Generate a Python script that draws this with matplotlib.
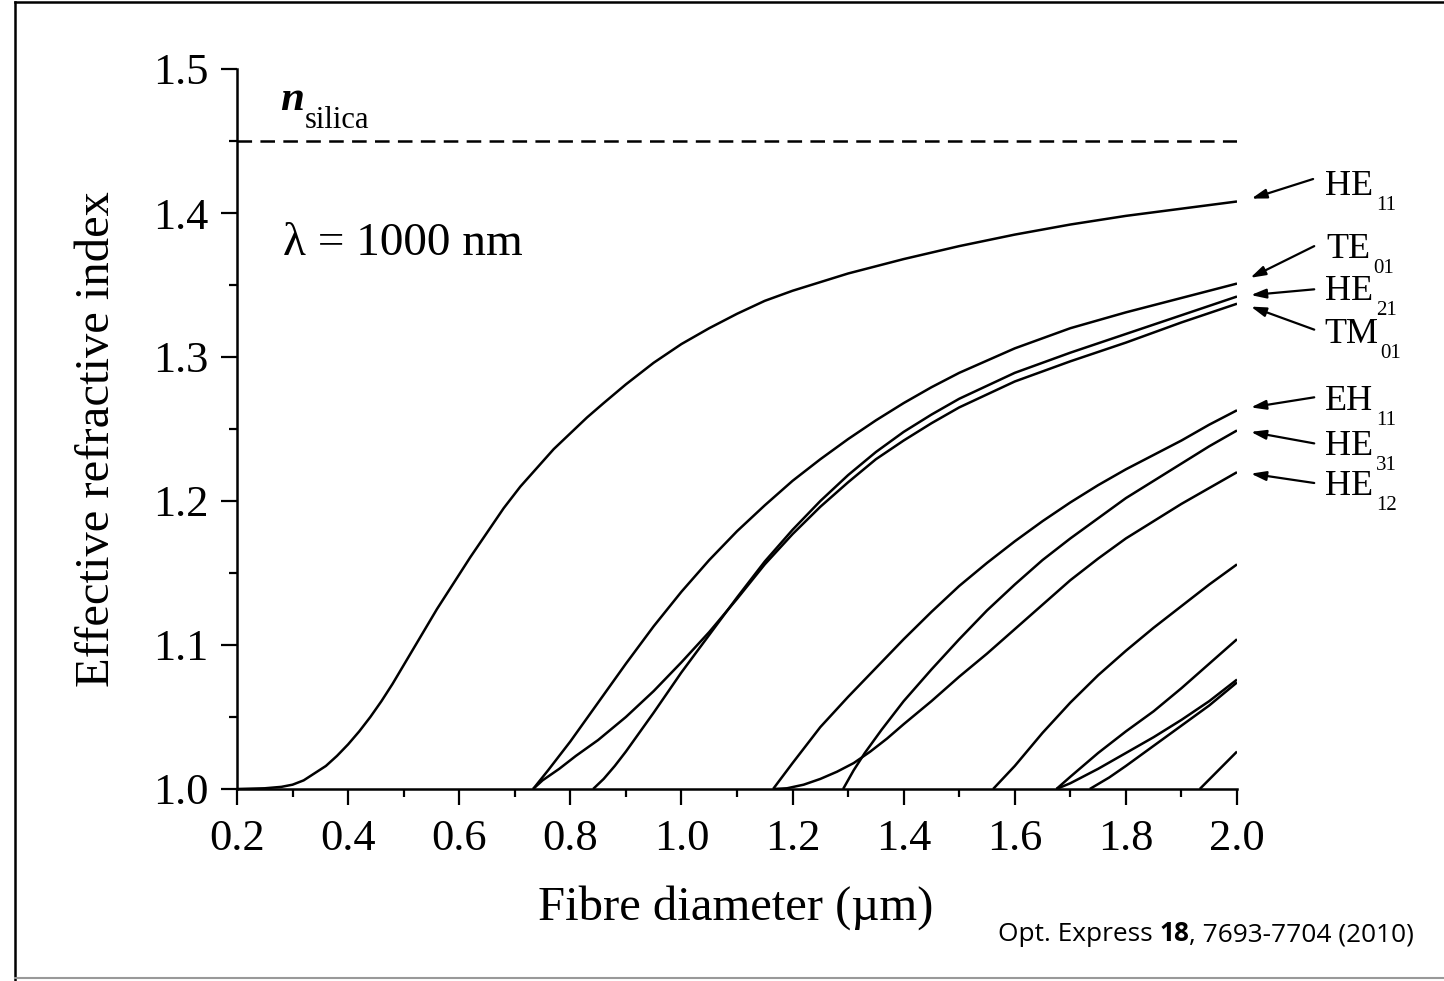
import matplotlib
matplotlib.use('Agg')
import matplotlib.pyplot as plt
from matplotlib.lines import Line2D
from matplotlib.ticker import MultipleLocator

# effective index curves
# diameter in um, index is dimensionless

he11_d = [0.20, 0.25, 0.28, 0.30, 0.32, 0.34, 0.36, 0.38, 0.40, 0.42, 0.44, 0.46, 0.48, 0.50, 0.52, 0.54, 0.56, 0.58,
          0.60, 0.62, 0.65, 0.68, 0.71, 0.74, 0.77, 0.80, 0.83, 0.86, 0.90, 0.95, 1.00, 1.05, 1.10, 1.15, 1.20,
          1.30, 1.40, 1.50, 1.60, 1.70, 1.80, 1.90, 2.00]
he11_n = [1.000, 1.0005, 1.0015, 1.003, 1.006, 1.011, 1.016, 1.023, 1.031, 1.040, 1.050, 1.061, 1.073, 1.086, 1.099,
          1.112, 1.125, 1.137, 1.149, 1.161, 1.178, 1.195, 1.210, 1.223, 1.236, 1.247, 1.258, 1.268, 1.281, 1.296,
          1.309, 1.320, 1.330, 1.339, 1.346, 1.358, 1.368, 1.377, 1.385, 1.392, 1.398, 1.403, 1.408]

te01_d = [0.733, 0.76, 0.80, 0.85, 0.90, 0.95, 1.00, 1.05, 1.10, 1.15, 1.20, 1.25, 1.30, 1.35, 1.40, 1.45, 1.50,
          1.60, 1.70, 1.80, 1.90, 2.00]
te01_n = [1.000, 1.013, 1.033, 1.060, 1.087, 1.113, 1.137, 1.159, 1.179, 1.197, 1.214, 1.229, 1.243, 1.256, 1.268,
          1.279, 1.289, 1.306, 1.320, 1.331, 1.341, 1.351]

tm01_d = [0.733, 0.75, 0.78, 0.81, 0.85, 0.90, 0.95, 1.00, 1.05, 1.10, 1.15, 1.20, 1.25, 1.30, 1.35, 1.40, 1.45,
          1.50, 1.60, 1.70, 1.80, 1.90, 2.00]
tm01_n = [1.000, 1.006, 1.014, 1.023, 1.034, 1.050, 1.068, 1.088, 1.109, 1.132, 1.156, 1.177, 1.196, 1.213, 1.229,
          1.242, 1.254, 1.265, 1.283, 1.297, 1.310, 1.324, 1.337]

he21_d = [0.841, 0.86, 0.88, 0.90, 0.95, 1.00, 1.05, 1.10, 1.15, 1.20, 1.25, 1.30, 1.35, 1.40, 1.45, 1.50, 1.60,
          1.70, 1.80, 1.90, 2.00]
he21_n = [1.000, 1.007, 1.016, 1.026, 1.053, 1.081, 1.107, 1.133, 1.158, 1.180, 1.200, 1.218, 1.234, 1.248, 1.260,
          1.271, 1.289, 1.303, 1.316, 1.329, 1.342]

eh11_d = [1.165, 1.20, 1.25, 1.30, 1.35, 1.40, 1.45, 1.50, 1.55, 1.60, 1.65, 1.70, 1.75, 1.80, 1.85, 1.90, 1.95, 2.00]
eh11_n = [1.000, 1.018, 1.043, 1.064, 1.084, 1.104, 1.123, 1.141, 1.157, 1.172, 1.186, 1.199, 1.211, 1.222, 1.232,
          1.242, 1.253, 1.263]

he31_d = [1.291, 1.31, 1.33, 1.36, 1.40, 1.45, 1.50, 1.55, 1.60, 1.65, 1.70, 1.75, 1.80, 1.85, 1.90, 1.95, 2.00]
he31_n = [1.000, 1.013, 1.025, 1.041, 1.061, 1.083, 1.104, 1.124, 1.142, 1.159, 1.174, 1.188, 1.202, 1.214, 1.226,
          1.238, 1.249]

he12_d = [1.165, 1.19, 1.22, 1.25, 1.28, 1.31, 1.34, 1.37, 1.40, 1.45, 1.50, 1.55, 1.60, 1.65, 1.70, 1.75, 1.80,
          1.85, 1.90, 1.95, 2.00]
he12_n = [1.000, 1.0005, 1.003, 1.007, 1.012, 1.018, 1.026, 1.035, 1.045, 1.061, 1.078, 1.094, 1.111, 1.128, 1.145,
          1.160, 1.174, 1.186, 1.198, 1.209, 1.220]

# higher order modes, not labelled in the original
hom1_d = [1.561, 1.60, 1.65, 1.70, 1.75, 1.80, 1.85, 1.90, 1.95, 2.00]
hom1_n = [1.000, 1.016, 1.039, 1.060, 1.079, 1.096, 1.112, 1.127, 1.142, 1.156]

hom2_d = [1.675, 1.70, 1.75, 1.80, 1.85, 1.90, 1.95, 2.00]
hom2_n = [1.000, 1.0085, 1.025, 1.040, 1.054, 1.070, 1.087, 1.104]

hom3_d = [1.675, 1.70, 1.75, 1.80, 1.85, 1.90, 1.95, 2.00]
hom3_n = [1.000, 1.004, 1.014, 1.025, 1.036, 1.048, 1.061, 1.076]

hom4_d = [1.735, 1.77, 1.80, 1.85, 1.90, 1.95, 2.00]
hom4_n = [1.000, 1.008, 1.016, 1.030, 1.044, 1.058, 1.074]

hom5_d = [1.933, 2.00]
hom5_n = [1.000, 1.026]

n_silica = 1.45

curves = [
    (he11_d, he11_n), (te01_d, te01_n), (tm01_d, tm01_n), (he21_d, he21_n),
    (eh11_d, eh11_n), (he31_d, he31_n), (he12_d, he12_n),
    (hom1_d, hom1_n), (hom2_d, hom2_n), (hom3_d, hom3_n), (hom4_d, hom4_n), (hom5_d, hom5_n),
]

# mode labels: name, subscript, text x, baseline y, subscript x, arrow tail, arrow head
labels = [
    ('HE', '11', 2.158, 1.4125, 2.250, (2.137, 1.4236), (2.026, 1.410)),
    ('TE', '01', 2.161, 1.3688, 2.246, (2.139, 1.377), (2.024, 1.355)),
    ('HE', '21', 2.158, 1.3396, 2.250, (2.139, 1.347), (2.025, 1.343)),
    ('TM', '01', 2.158, 1.3097, 2.257, (2.139, 1.319), (2.025, 1.335)),
    ('EH', '11', 2.158, 1.2632, 2.250, (2.139, 1.272), (2.025, 1.265)),
    ('HE', '31', 2.158, 1.2319, 2.250, (2.139, 1.240), (2.025, 1.248)),
    ('HE', '12', 2.158, 1.2042, 2.250, (2.139, 1.2125), (2.025, 1.219)),
]

SERIF = 'Liberation Serif'
plt.rcParams['font.family'] = SERIF
plt.rcParams['lines.scale_dashes'] = False

W, H = 1444, 981
fig = plt.figure(figsize=(W / 100, H / 100), dpi=100)
fig.patch.set_facecolor('white')
ax = fig.add_axes([237 / W, 1 - 789 / H, 1000 / W, 720 / H])

# 1. curves
for d, n in curves:
    ax.plot(d, n, color='black', lw=1.8, solid_capstyle='butt', solid_joinstyle='round')

ax.plot([0.2, 2.0], [n_silica, n_silica], color='black', lw=1.8, dashes=(10.5, 6))

# 2. axes
ax.set_xlim(0.2, 2.0)
ax.set_ylim(1.0, 1.5)
ax.xaxis.set_major_locator(MultipleLocator(0.2))
ax.xaxis.set_minor_locator(MultipleLocator(0.1))
ax.yaxis.set_major_locator(MultipleLocator(0.1))
ax.yaxis.set_minor_locator(MultipleLocator(0.05))
ax.xaxis.set_major_formatter(plt.FuncFormatter(lambda v, p: '%.1f' % v))
ax.yaxis.set_major_formatter(plt.FuncFormatter(lambda v, p: '%.1f' % v))
for side in ['top', 'right']:
    ax.spines[side].set_visible(False)
for side in ['left', 'bottom']:
    ax.spines[side].set_linewidth(1.8)
ax.tick_params(which='major', direction='out', length=11.5, width=1.6, labelsize=32)
ax.tick_params(which='minor', direction='out', length=6, width=1.6)
ax.tick_params(axis='y', which='major', pad=9)
ax.tick_params(axis='x', which='major', pad=10)
ax.set_facecolor('none')

fig.text(97 / W, 1 - 439 / H, 'Effective refractive index', rotation=90,
         ha='center', va='center', fontsize=35)
fig.text(736 / W, 1 - 908 / H, 'Fibre diameter (\u00b5m)', ha='center', va='center', fontsize=35)

# 3. annotations
ax.text(0.2828, 1.3708, '\u03bb = 1000 nm', fontsize=34, va='baseline', ha='left')
ax.text(0.277, 1.4715, 'n', fontsize=31, fontweight='bold', fontstyle='italic', va='baseline', ha='left')
ax.text(0.3224, 1.459, 'silica', fontsize=22, va='baseline', ha='left')

for name, sub, tx, ty, sx, tail, head in labels:
    ax.text(tx, ty, name, fontsize=26, va='baseline', ha='left', clip_on=False)
    ax.text(sx, ty - 15 / 1440, sub, fontsize=15, va='baseline', ha='left', clip_on=False)
    ax.annotate('', xy=head, xytext=tail, annotation_clip=False,
                arrowprops=dict(arrowstyle='-|>,head_length=0.9,head_width=0.28',
                                mutation_scale=10, color='black', lw=1.6,
                                shrinkA=0, shrinkB=0))

# 4. citation, with a bold volume number
fig.canvas.draw()
renderer = fig.canvas.get_renderer()
x0 = 998
base = 1 - 941 / H
parts = [('Opt. Express ', 'normal'), ('18', 'bold'), (', 7693-7704 (2010)', 'normal')]
for txt, weight in parts:
    t = fig.text(x0 / W, base, txt, fontsize=18.9, family='Open Sans', fontweight=weight,
                 va='baseline', ha='left')
    bb = t.get_window_extent(renderer)
    x0 = bb.x1

# 5. frame around the picture
fig.add_artist(Line2D([15 / W, 15 / W], [0, 1 - 2 / H], color='black', lw=1.8))
fig.add_artist(Line2D([15 / W, 1], [1 - 2 / H, 1 - 2 / H], color='black', lw=1.8))
fig.add_artist(Line2D([15 / W, 1], [1 - 978 / H, 1 - 978 / H], color='#999999', lw=1.5))

fig.savefig('out.png', dpi=100, facecolor='white')
